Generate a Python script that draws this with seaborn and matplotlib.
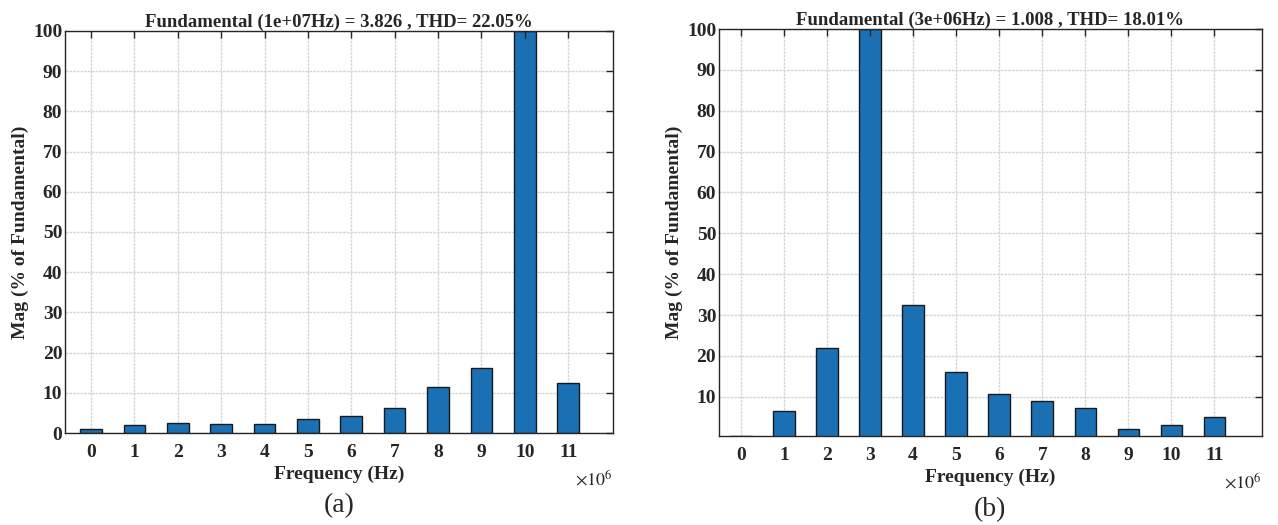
import numpy as np
import pandas as pd
import matplotlib
matplotlib.use("Agg")
import matplotlib.pyplot as plt
import seaborn as sns

# harmonic index (x 1e6 Hz)
freq = list(range(12))
mag_a = [1.0, 2.0, 2.4, 2.2, 2.2, 3.4, 4.3, 6.3, 11.5, 16.2, 100.0, 12.4]
mag_b = [0.5, 6.4, 21.9, 100.0, 32.4, 16.0, 10.6, 9.0, 7.3, 2.0, 3.0, 5.0]
title_a = "Fundamental (1e+07Hz) = 3.826 , THD= 22.05%"
title_b = "Fundamental (3e+06Hz) = 1.008 , THD= 18.01%"
yticks_a = list(range(0, 101, 10))
yticks_b = list(range(10, 101, 10))

sns.set_style("white")
plt.rcParams["font.family"] = ["Liberation Serif", "DejaVu Serif"]
plt.rcParams["mathtext.fontset"] = "stix"

bar_color = "#1b6fb3"
grid_color = "#d6d6d6"

fig = plt.figure(figsize=(12.78, 5.25), dpi=100)
ax_a = fig.add_axes([0.0509, 0.1752, 0.4286, 0.766])
ax_b = fig.add_axes([0.5626, 0.1695, 0.4247, 0.7752])

panels = [
    (ax_a, mag_a, title_a, yticks_a, (-0.6, 12.03), (0, 100), "(a)"),
    (ax_b, mag_b, title_b, yticks_b, (-0.51, 12.1), (0.4, 100), "(b)"),
]

for ax, mag, title, yticks, xlim, ylim, cap in panels:
    df = pd.DataFrame({"freq": freq, "mag": mag})
    sns.barplot(data=df, x="freq", y="mag", ax=ax, color=bar_color,
                saturation=1, width=0.5, edgecolor="#1a1a1a", linewidth=1,
                zorder=1)
    ax.set_xlim(*xlim)
    ax.set_ylim(*ylim)
    ax.set_yticks(yticks)
    ax.set_xticks(range(12))
    ax.set_xticklabels([str(f) for f in freq])
    # grid behind the bars, ticks on top (MATLAB look)
    for t in range(12):
        ax.axvline(t, color=grid_color, lw=1, ls=(0, (2, 0.7)), zorder=0)
    for t in yticks:
        ax.axhline(t, color=grid_color, lw=1, ls=(0, (2, 0.7)), zorder=0)
    ax.set_axisbelow(False)
    ax.tick_params(direction="in", top=True, right=True, length=5, width=1,
                   colors="#262626", labelsize=14)
    ax.tick_params(axis="x", pad=8)
    ax.tick_params(axis="y", pad=2)
    for lab in ax.get_xticklabels() + ax.get_yticklabels():
        lab.set_fontweight("bold")
    for sp in ax.spines.values():
        sp.set_visible(True)
        sp.set_color("#262626")
        sp.set_linewidth(1)
    ax.set_title(title, fontsize=13.5, fontweight="bold", pad=3)
    ax.set_xlabel("Frequency (Hz)", fontsize=14, fontweight="bold", labelpad=3)
    ax.set_ylabel("Mag (% of Fundamental)", fontsize=14, fontweight="bold",
                  labelpad=3)
    ax.text(1.0, -0.09, r"$\times10^{6}$", transform=ax.transAxes,
            ha="right", va="top", fontsize=13)
    ax.text(0.5, -0.15, cap, transform=ax.transAxes, ha="center", va="top",
            fontsize=20)

fig.savefig("out.png", dpi=100)
